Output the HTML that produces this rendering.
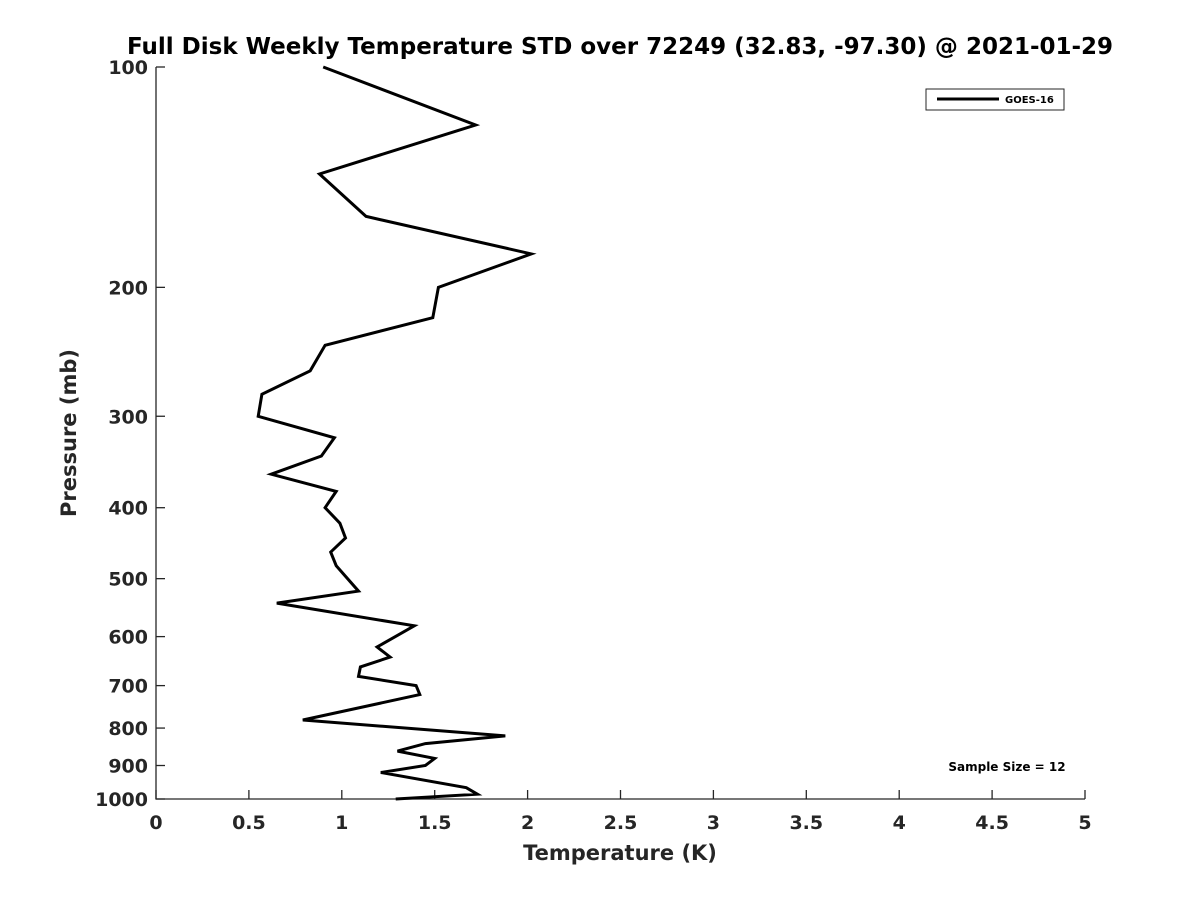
<!DOCTYPE html>
<html><head><meta charset="utf-8"><style>
body{margin:0;background:#fff;}
svg text{font-family:"DejaVu Sans","Liberation Sans",sans-serif;font-weight:bold;fill:#262626;}
</style></head><body>
<svg id="chart" width="1200" height="900" viewBox="0 0 1200 900">
<rect width="1200" height="900" fill="#fff"/>
<text x="620" y="54" text-anchor="middle" font-size="23" style="fill:#000">Full Disk Weekly Temperature STD over 72249 (32.83, -97.30) @ 2021-01-29</text>
<g id="axes"></g>
<text x="620" y="860" text-anchor="middle" font-size="21">Temperature (K)</text>
<text transform="translate(76,433) rotate(-90)" text-anchor="middle" font-size="21">Pressure (mb)</text>
<g>
<rect x="926" y="89" width="138" height="21" fill="#fff" stroke="#262626" stroke-width="1"/>
<line x1="937" y1="99" x2="999" y2="99" stroke="#000" stroke-width="3"/>
<text x="1005" y="103" font-size="10" style="fill:#000">GOES-16</text>
</g>
<text x="1007" y="771" text-anchor="middle" font-size="12" style="fill:#000">Sample Size = 12</text>
</svg>
<script>
const xTicks=[0,0.5,1,1.5,2,2.5,3,3.5,4,4.5,5];
const yTicks=[100,200,300,400,500,600,700,800,900,1000];
const stdValues=[0.90,1.72,0.88,1.13,2.02,1.52,1.49,0.91,0.83,0.57,0.55,0.96,0.89,0.62,0.97,0.91,0.99,1.02,0.94,0.97,1.09,0.65,1.39,1.19,1.26,1.10,1.09,1.40,1.42,0.79,1.88,1.45,1.30,1.50,1.45,1.21,1.67,1.73,1.29];
const pressures=[100,120,140,160,180,200,220,240,260,280,300,321,340,360,380,400,420,440,460,480,520,540,580,620,640,660,680,700,720,780,820,840,860,880,900,920,965,985,1000];
const X0=156,X1=1085,Y0=67,Y1=799;
const xs=v=>X0+(v-0)/(5-0)*(X1-X0);
const ys=p=>Y0+Math.log10(p/100)/1*(Y1-Y0);
const NS="http://www.w3.org/2000/svg";
const svg=document.getElementById('chart');
const axes=document.getElementById('axes');
function mk(t,a){const e=document.createElementNS(NS,t);for(const k in a)e.setAttribute(k,a[k]);return e;}
let ax=mk('path',{d:`M${X0},${Y0}V${Y1}H${X1}`,fill:'none',stroke:'#262626','stroke-width':1.3});


axes.appendChild(ax);
xTicks.forEach(v=>{
 const x=xs(v);
 const t=mk('line',{x1:x,y1:Y1,x2:x,y2:Y1-9,stroke:'#262626','stroke-width':1.3});
 
 
 axes.appendChild(t);
 const l=mk('text',{x:x,y:Y1+30,'text-anchor':'middle','font-size':19});
 
 
 l.textContent=String(v);axes.appendChild(l);
});
yTicks.forEach(p=>{
 const y=ys(p);
 const t=mk('line',{x1:X0,y1:y,x2:X0+9,y2:y,stroke:'#262626','stroke-width':1.3});
 
 
 axes.appendChild(t);
 const l=mk('text',{x:X0-8,y:y+7,'text-anchor':'end','font-size':19});
 
 
 l.textContent=String(p);axes.appendChild(l);
});
const pts=stdValues.map((v,i)=>xs(v).toFixed(1)+','+ys(pressures[i]).toFixed(1)).join(' ');
const line=mk('polyline',{points:pts,fill:'none',stroke:'#000','stroke-width':3,'stroke-linejoin':'miter'});


svg.appendChild(line);
</script>
</body></html>
